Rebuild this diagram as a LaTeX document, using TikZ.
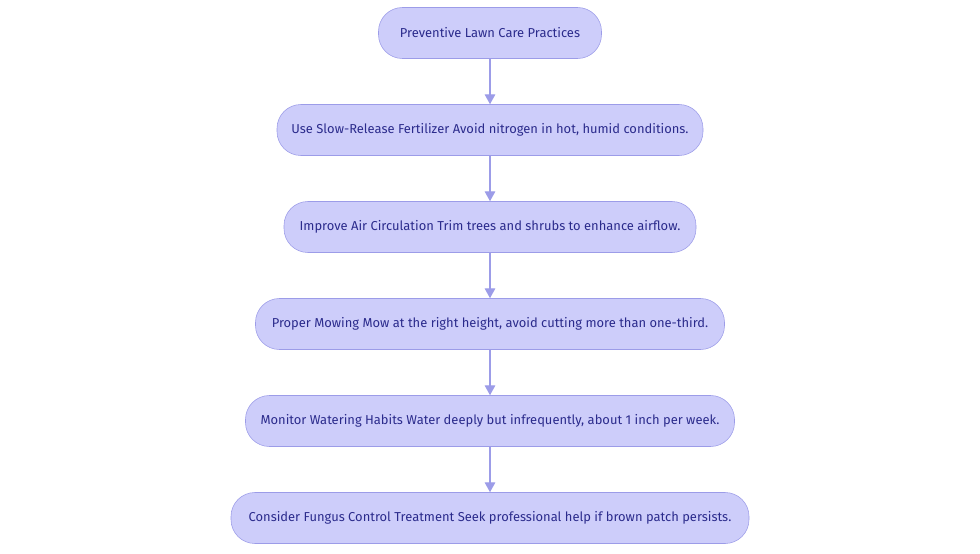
\documentclass[tikz,border=0pt]{standalone}
\usepackage{fontspec}
\setmainfont{Fira Sans}
\usepackage{tikz}
\usetikzlibrary{arrows.meta}
\definecolor{boxfill}{HTML}{CDCDFA}
\definecolor{boxline}{HTML}{9C9CE8}
\definecolor{boxtext}{HTML}{2B2B8C}
\tikzset{
    stage/.style={draw=boxline,fill=boxfill,text=boxtext,rounded corners=17pt,
        minimum height=51*0.025cm,font=\fontsize{9.2}{11}\selectfont,inner sep=0pt},
    link/.style={draw=boxline,line width=0.8pt,-{Triangle[length=7pt,width=7.5pt]}}
}
\begin{document}
\begin{tikzpicture}[x=0.025cm,y=-0.025cm]
        \useasboundingbox (0,0) rectangle (980,553);
        \node[stage,minimum width=223*0.025cm](s1) at (490,33) {Preventive Lawn Care Practices};
        \node[stage,minimum width=426*0.025cm](s2) at (490,130) {Use Slow-Release Fertilizer Avoid nitrogen in hot, humid conditions.};
        \node[stage,minimum width=412*0.025cm](s3) at (490,227) {Improve Air Circulation Trim trees and shrubs to enhance airflow.};
        \node[stage,minimum width=469*0.025cm](s4) at (490,324) {Proper Mowing Mow at the right height, avoid cutting more than one-third.};
        \node[stage,minimum width=489*0.025cm](s5) at (490,421) {Monitor Watering Habits Water deeply but infrequently, about 1 inch per week.};
        \node[stage,minimum width=518*0.025cm](s6) at (490,518) {Consider Fungus Control Treatment Seek professional help if brown patch persists.};
        \draw[link] (s1) -- (s2);
        \draw[link] (s2) -- (s3);
        \draw[link] (s3) -- (s4);
        \draw[link] (s4) -- (s5);
        \draw[link] (s5) -- (s6);
    \end{tikzpicture}
\end{document}
